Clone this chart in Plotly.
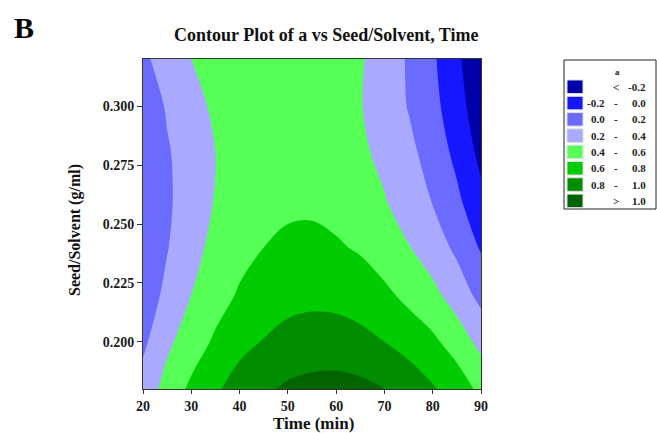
import plotly.graph_objects as go

# ---- data ----
time_min = [20, 25, 30, 35, 40, 45, 50, 55, 60, 65, 70, 75, 80, 85, 90]
seed_solvent = [0.18, 0.20, 0.22, 0.24, 0.26, 0.28, 0.30, 0.32]
a_v018 = [0.28, 0.47, 0.64, 0.77, 0.89, 0.97, 1.03, 1.06, 1.07, 1.05, 1.00, 0.93, 0.82, 0.71, 0.55]
a_v020 = [0.16, 0.36, 0.50, 0.63, 0.74, 0.81, 0.87, 0.89, 0.89, 0.86, 0.80, 0.72, 0.64, 0.51, 0.34]
a_v022 = [0.08, 0.25, 0.40, 0.52, 0.62, 0.69, 0.73, 0.75, 0.74, 0.70, 0.64, 0.55, 0.45, 0.31, 0.14]
a_v024 = [0.03, 0.19, 0.34, 0.45, 0.54, 0.60, 0.63, 0.64, 0.62, 0.58, 0.50, 0.41, 0.30, 0.16, -0.02]
a_v026 = [0.01, 0.17, 0.30, 0.41, 0.49, 0.54, 0.57, 0.57, 0.54, 0.49, 0.41, 0.31, 0.19, 0.04, -0.15]
a_v028 = [0.02, 0.18, 0.30, 0.40, 0.47, 0.52, 0.54, 0.53, 0.49, 0.43, 0.36, 0.25, 0.12, -0.05, -0.25]
a_v030 = [0.07, 0.22, 0.34, 0.43, 0.49, 0.53, 0.54, 0.52, 0.48, 0.41, 0.31, 0.19, 0.06, -0.12, -0.32]
a_v032 = [0.16, 0.29, 0.40, 0.48, 0.54, 0.57, 0.57, 0.55, 0.50, 0.42, 0.31, 0.18, 0.03, -0.16, -0.37]
z_rows = [a_v018, a_v020, a_v022, a_v024, a_v026, a_v028, a_v030, a_v032]

x_ticks = [20, 30, 40, 50, 60, 70, 80, 90]
y_ticks = [0.2, 0.225, 0.25, 0.275, 0.3]
y_tick_text = ["0.200", "0.225", "0.250", "0.275", "0.300"]

band_colors = ["#0000A8", "#1717FF", "#6B6BFF", "#A9A9FF",
               "#55FF55", "#00CC00", "#008E00", "#006400"]
band_labels = [("", "<", "-0.2"), ("-0.2", "-", "0.0"), ("0.0", "-", "0.2"),
               ("0.2", "-", "0.4"), ("0.4", "-", "0.6"), ("0.6", "-", "0.8"),
               ("0.8", "-", "1.0"), ("", ">", "1.0")]

SERIF = "Liberation Serif"
W, H = 657, 433
L, R, T, B = 143, 481, 59, 389

n = len(band_colors)
colorscale = [[i / (n - 1), c] for i, c in enumerate(band_colors)]

fig = go.Figure(go.Contour(
    x=time_min, y=seed_solvent, z=z_rows,
    autocontour=False,
    contours=dict(start=-0.2, end=1.0, size=0.2, coloring="fill", showlines=False),
    line=dict(width=0, smoothing=1.0),
    colorscale=colorscale, showscale=False, hoverinfo="skip",
))

axis_font = dict(family=SERIF, size=14, color="#1a1a1a", weight="bold")
fig.update_xaxes(range=[20, 90], tickvals=x_ticks,
                 ticks="outside", ticklen=4, tickcolor="#333", showline=True,
                 linecolor="#333", linewidth=1, mirror=True, showgrid=False,
                 zeroline=False, tickfont=axis_font)
fig.update_yaxes(range=[0.18, 0.32], tickvals=y_ticks, ticktext=y_tick_text,
                 ticks="outside", ticklen=5, tickcolor="#333", showline=True,
                 linecolor="#333", linewidth=1, mirror=True, showgrid=False,
                 zeroline=False, tickfont=axis_font)


def px(xp):
    return (xp - L) / (R - L)


def py(yp):
    return (B - yp) / (B - T)


shapes = []
annotations = []
# legend box
shapes.append(dict(type="rect", xref="paper", yref="paper", x0=px(564), x1=px(656),
                   y0=py(209), y1=py(60), line=dict(color="#222", width=1), fillcolor="white", layer="above"))
annotations.append(dict(xref="paper", yref="paper", x=px(617), y=py(72), text="a",
                        xanchor="center", yanchor="middle", showarrow=False,
                        font=dict(family=SERIF, size=9, color="#222", weight="bold")))
row_top = 80
row_h = 16.3
for i, (c, (lo, mid, hi)) in enumerate(zip(band_colors, band_labels)):
    y0 = row_top + i * row_h
    y1 = y0 + 13.5
    yc = (y0 + y1) / 2
    shapes.append(dict(type="rect", xref="paper", yref="paper", x0=px(567), x1=px(583),
                       y0=py(y1), y1=py(y0), line=dict(color="#ddd", width=1), fillcolor=c, layer="above"))
    f = dict(family=SERIF, size=11, color="#222", weight="bold")
    if lo:
        annotations.append(dict(xref="paper", yref="paper", x=px(607), y=py(yc), text=lo,
                                xanchor="right", yanchor="middle", showarrow=False, font=f))
    annotations.append(dict(xref="paper", yref="paper", x=px(616), y=py(yc), text=mid,
                            xanchor="center", yanchor="middle", showarrow=False, font=f))
    annotations.append(dict(xref="paper", yref="paper", x=px(648), y=py(yc), text=hi,
                            xanchor="right", yanchor="middle", showarrow=False, font=f))

# panel letter, title, axis titles
annotations.append(dict(xref="paper", yref="paper", x=px(12), y=py(28), text="B",
                        xanchor="left", yanchor="middle", showarrow=False,
                        font=dict(family=SERIF, size=30, color="#000", weight="bold")))
annotations.append(dict(xref="paper", yref="paper", x=px(326), y=py(35),
                        text="Contour Plot of a vs Seed/Solvent, Time",
                        xanchor="center", yanchor="middle", showarrow=False,
                        font=dict(family=SERIF, size=18, color="#111", weight="bold")))
annotations.append(dict(xref="paper", yref="paper", x=px(313), y=py(423), text="Time (min)",
                        xanchor="center", yanchor="middle", showarrow=False,
                        font=dict(family=SERIF, size=17, color="#111", weight="bold")))
annotations.append(dict(xref="paper", yref="paper", x=px(75), y=py(230), text="Seed/Solvent (g/ml)",
                        xanchor="center", yanchor="middle", textangle=-90, showarrow=False,
                        font=dict(family=SERIF, size=16, color="#111", weight="bold")))

fig.update_layout(width=W, height=H, margin=dict(l=L, r=W - R, t=T, b=H - B),
                  paper_bgcolor="white", plot_bgcolor="white",
                  shapes=shapes, annotations=annotations, showlegend=False)

fig.write_html("out.html")
